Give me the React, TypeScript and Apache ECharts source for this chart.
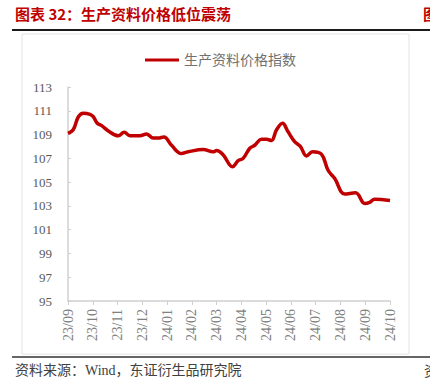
import React, { useEffect, useRef } from "react";
import * as echarts from "echarts";

const titleText = "图表 32：生产资料价格低位震荡";
const sourceText = "资料来源：Wind，东证衍生品研究院";
const seriesName = "生产资料价格指数";
const tickLabels = ["23/09", "23/10", "23/11", "23/12", "24/01", "24/02", "24/03", "24/04", "24/05", "24/06", "24/07", "24/08", "24/09", "24/10"];
// month offset from 23/09
const monthPos = [0, 0.21, 0.42, 0.62, 0.89, 1.02, 1.18, 1.36, 1.63, 2.03, 2.27, 2.5, 2.9, 3.17, 3.44, 3.64, 3.87, 4.18, 4.58, 4.85, 5.46, 5.86, 6.0, 6.26, 6.64, 6.87, 7.07, 7.34, 7.54, 7.81, 8.01, 8.21, 8.42, 8.66, 8.88, 9.15, 9.38, 9.63, 9.87, 10.23, 10.5, 10.77, 11.17, 11.61, 11.98, 12.18, 12.38, 13.0];
const indexValues = [109.1, 109.4, 110.5, 110.8, 110.7, 110.5, 109.95, 109.75, 109.3, 108.9, 109.2, 108.9, 108.9, 109.05, 108.7, 108.7, 108.8, 108.1, 107.4, 107.55, 107.75, 107.55, 107.65, 107.3, 106.3, 106.8, 107.0, 107.85, 108.1, 108.6, 108.6, 108.5, 109.4, 109.95, 109.25, 108.4, 108.0, 107.2, 107.55, 107.35, 106.0, 105.3, 104.0, 104.1, 103.2, 103.3, 103.55, 103.45];

export default function App() {
  const ref = useRef<HTMLDivElement>(null);
  useEffect(() => {
    if (!ref.current) return;
    const chart = echarts.init(ref.current, null, { renderer: "svg" });
    const data = monthPos.map((m, i) => [m, indexValues[i]]);
    const serif = "'Liberation Serif', 'Times New Roman', serif";
    const cjk = "'Liberation Serif', 'Noto Sans CJK SC', serif";
    chart.setOption({
      animation: false,
      backgroundColor: "#ffffff",
      graphic: [
        { type: "text", left: 15, top: 6, style: { text: titleText, fill: "#C00000", font: "bold 15px 'Noto Sans CJK SC'" } },
        { type: "text", left: 423, top: 6, style: { text: "图", fill: "#C00000", font: "bold 15px 'Noto Sans CJK SC'" } },
        { type: "line", shape: { x1: 12, y1: 30, x2: 430, y2: 30 }, style: { stroke: "#1a1a1a", lineWidth: 2 } },
        { type: "rect", shape: { x: 22, y: 34, width: 387, height: 320 }, style: { fill: "none", stroke: "#e2e2e2", lineWidth: 1 } },
        { type: "line", shape: { x1: 12, y1: 357, x2: 430, y2: 357 }, style: { stroke: "#333333", lineWidth: 1.5 } },
        { type: "text", left: 15, top: 363, style: { text: sourceText, fill: "#404040", font: "14px 'Liberation Serif', 'Noto Sans CJK SC'" } },
        { type: "text", left: 424, top: 363, style: { text: "资", fill: "#404040", font: "14px 'Noto Sans CJK SC'" } },
      ],
      legend: {
        data: [seriesName],
        left: 140,
        top: 48,
        icon: "rect",
        itemWidth: 34,
        itemHeight: 3,
        itemGap: 6,
        textStyle: { color: "#707070", fontSize: 14, fontFamily: cjk },
      },
      grid: { left: 68, right: 40, top: 87, bottom: 90, containLabel: false },
      xAxis: {
        type: "value",
        min: 0,
        max: 13,
        interval: 1,
        axisLine: { lineStyle: { color: "#d0d0d0", width: 1.5 } },
        axisTick: { show: true, inside: false, length: 4, lineStyle: { color: "#d0d0d0" } },
        splitLine: { show: false },
        axisLabel: {
          rotate: 90,
          margin: 8,
          color: "#808080",
          fontSize: 14,
          fontFamily: serif,
          formatter: (v: number) => tickLabels[Math.round(v)] ?? "",
        },
      },
      yAxis: {
        type: "value",
        min: 95,
        max: 113,
        interval: 2,
        axisLine: { show: true, lineStyle: { color: "#d0d0d0", width: 1.5 } },
        axisTick: { show: true, inside: true, length: 3, lineStyle: { color: "#d0d0d0" } },
        splitLine: { show: false },
        axisLabel: { margin: 16, color: "#595959", fontSize: 13, fontFamily: serif },
      },
      series: [
        {
          name: seriesName,
          type: "line",
          data,
          smooth: 0.4,
          symbol: "none",
          lineStyle: { color: "#C00000", width: 3.5 },
          itemStyle: { color: "#C00000" },
        },
      ],
    });
    return () => chart.dispose();
  }, []);
  return (
    <div
      ref={ref}
      style={{ position: "fixed", left: 0, top: 0, width: 430, height: 391, background: "#fff" }}
    />
  );
}
